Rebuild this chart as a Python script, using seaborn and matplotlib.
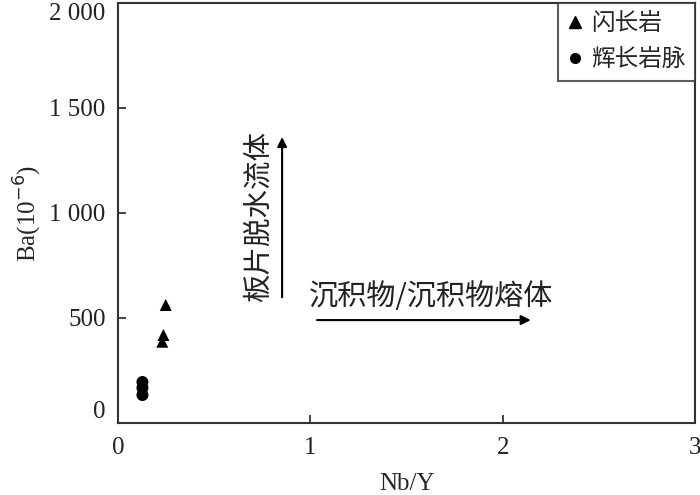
import matplotlib
matplotlib.use("Agg")
import matplotlib.pyplot as plt
import seaborn as sns
import pandas as pd

# --- data
diorite_nby = [0.248, 0.236, 0.230]
diorite_ba = [562, 419, 387]
gabbro_nby = [0.127, 0.127, 0.127]
gabbro_ba = [195, 167, 133]
rock_names = ["闪长岩", "辉长岩脉"]
y_ticks = [0, 500, 1000, 1500, 2000]
y_ticklabels = ["0", "500", "1 000", "1 500", "2 000"]

df = pd.DataFrame({
    "Nb/Y": diorite_nby + gabbro_nby,
    "Ba": diorite_ba + gabbro_ba,
    "rock": [rock_names[0]] * len(diorite_nby) + [rock_names[1]] * len(gabbro_nby),
})

sns.set_style("ticks")
cjk = ["Noto Sans CJK SC", "DejaVu Sans"]
serif = ["Liberation Serif", "DejaVu Serif"]
plt.rcParams["font.family"] = serif

fig = plt.figure(figsize=(7, 4.95), dpi=100)
ax = fig.add_axes([0.1686, 0.1455, 0.8244, 0.8485])

sns.scatterplot(data=df, x="Nb/Y", y="Ba", hue="rock", style="rock",
                markers={rock_names[0]: "^", rock_names[1]: "o"},
                palette={rock_names[0]: "black", rock_names[1]: "black"},
                s=75, edgecolor="black", linewidth=0, ax=ax, legend=False)

ax.set_xlim(0, 3)
ax.set_ylim(0, 2000)
ax.set_xticks([0, 1, 2, 3])
ax.set_yticks(y_ticks)
ax.set_yticklabels(y_ticklabels)
ax.tick_params(direction="in", length=6, width=1.2, labelsize=18, colors="#222222")
ax.tick_params(axis="x", pad=10)
ax.tick_params(axis="y", pad=9)
ylabs = ax.get_yticklabels()
ylabs[-1].set_verticalalignment("top")
ylabs[0].set_verticalalignment("bottom")
for sp in ax.spines.values():
    sp.set_linewidth(1.5)
    sp.set_color("#333333")

ax.set_xlabel("Nb/Y", fontsize=18, labelpad=10)
ax.set_ylabel("Ba(10$^{-6}$)", fontsize=18, labelpad=4)

# arrows and process labels
ax.annotate("", xy=(0.853, 1375), xytext=(0.853, 585),
            arrowprops=dict(arrowstyle="-|>", color="black", lw=1.5, mutation_scale=14))
ax.text(0.73, 985, "板片脱水流体", rotation=90, ha="center", va="center",
        fontsize=20.5, family=cjk, color="#222222")
ax.annotate("", xy=(2.16, 490), xytext=(1.02, 490),
            arrowprops=dict(arrowstyle="-|>", color="black", lw=1.5, mutation_scale=14))
ax.text(1.63, 600, "沉积物/沉积物熔体", ha="center", va="center",
        fontsize=21, family=cjk, color="#222222")

# legend
handles = [
    plt.Line2D([], [], marker="^", color="black", linestyle="none", markersize=8),
    plt.Line2D([], [], marker="o", color="black", linestyle="none", markersize=7),
]
leg = ax.legend(handles, rock_names, loc="upper right", frameon=True, fancybox=False,
                prop={"family": cjk, "size": 17}, handlelength=0.6, handletextpad=0.4,
                borderaxespad=0.0, borderpad=0.4, labelspacing=0.55)
leg.get_frame().set_edgecolor("#333333")
leg.get_frame().set_linewidth(1.5)

fig.savefig("out.png", dpi=100)
